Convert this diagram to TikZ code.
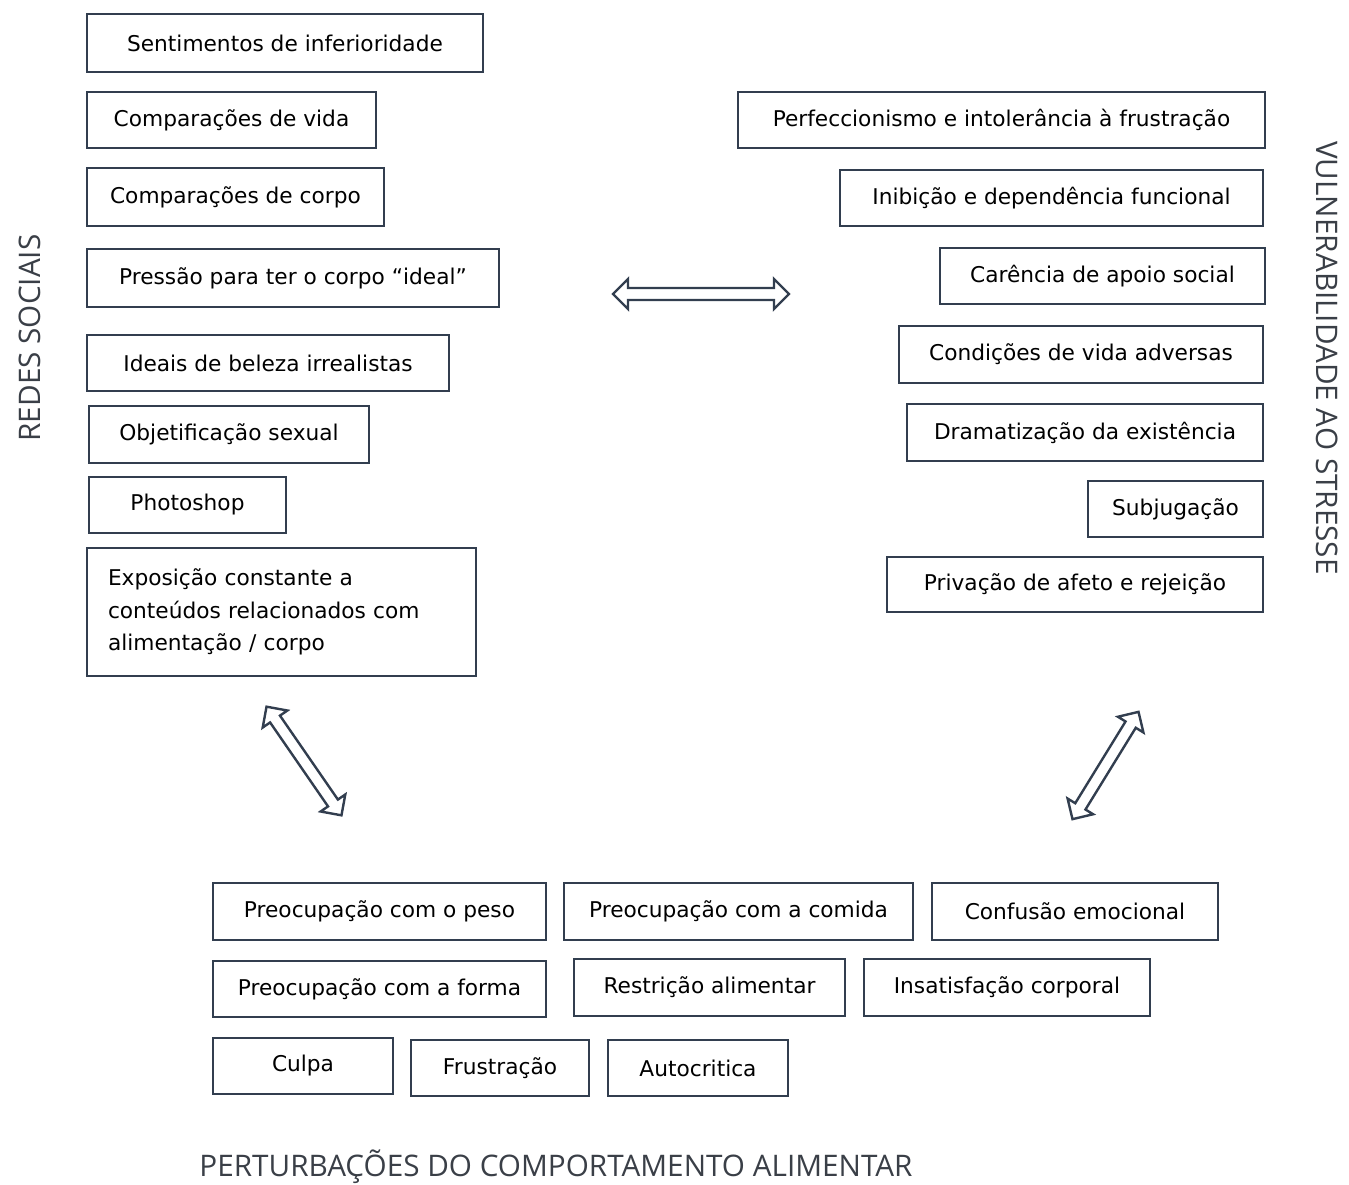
\documentclass[tikz,border=0pt]{standalone}
\usepackage{fontspec}
\setmainfont{DejaVu Sans}
\newfontfamily\labelfont{Open Sans}
\definecolor{boxline}{HTML}{323E4F}
\definecolor{labelcol}{HTML}{3A3F47}
\newcommand\mybox[6]{%
  \node[boxnode, minimum width={(#4-#2)*1pt}, minimum height={(#5-#3)*1pt}]
    (#1) at ({(#2+#4)/2*1pt},{-(#3+#5)/2*1pt}) {#6};}
% hollow double arrow: name, cx, cy, angle, length
\newcommand\mydblarrow[5]{%
  \begin{scope}[shift={(#2,#3)}, rotate=#4]
    \coordinate (#1-a) at ({-#5/2},0);
    \coordinate (#1-b) at ({#5/2},0);
    \draw[arrowline] ({-#5/2},0) -- ({-#5/2+15},15) -- ({-#5/2+15},6)
      -- ({#5/2-15},6) -- ({#5/2-15},15) -- ({#5/2},0) -- ({#5/2-15},-15)
      -- ({#5/2-15},-6) -- ({-#5/2+15},-6) -- ({-#5/2+15},-15) -- cycle;
  \end{scope}}
\tikzset{
  boxnode/.style={draw=boxline, line width=2pt, inner sep=0pt, align=center,
    font=\fontsize{21.7}{26}\selectfont, text=black},
  arrowline/.style={draw=boxline, line width=2.4pt, line join=miter},
  grouplabel/.style={font=\labelfont\fontsize{29.7}{34}\selectfont, text=labelcol, inner sep=0pt}
}
\begin{document}
\begin{tikzpicture}[x=1pt,y=1pt]
\useasboundingbox (0,0) rectangle (1349,-1185);
% left column
\mybox{l1}{87}{14}{483}{72}{Sentimentos de inferioridade}
\mybox{l2}{87}{92}{376}{148}{Comparações de vida}
\mybox{l3}{87}{168}{384}{226}{Comparações de corpo}
\mybox{l4}{87}{249}{499}{307}{Pressão para ter o corpo “ideal”}
\mybox{l5}{87}{335}{449}{391}{Ideais de beleza irrealistas}
\mybox{l6}{89}{406}{369}{463}{Objetificação sexual}
\mybox{l7}{89}{477}{286}{533}{Photoshop}
\node[boxnode, minimum width=389pt, minimum height=128pt, align=left,
  text width=347pt, font=\fontsize{21.7}{32.5}\selectfont] (l8) at (281.5,-612)
  {Exposição constante a\\conteúdos relacionados com\\alimentação / corpo};
% right column
\mybox{r1}{738}{92}{1265}{148}{Perfeccionismo e intolerância à frustração}
\mybox{r2}{840}{170}{1263}{226}{Inibição e dependência funcional}
\mybox{r3}{940}{248}{1265}{304}{Carência de apoio social}
\mybox{r4}{899}{326}{1263}{383}{Condições de vida adversas}
\mybox{r5}{907}{404}{1263}{461}{Dramatização da existência}
\mybox{r6}{1088}{481}{1263}{537}{Subjugação}
\mybox{r7}{887}{557}{1263}{612}{Privação de afeto e rejeição}
% bottom group
\mybox{b1}{213}{883}{546}{940}{Preocupação com o peso}
\mybox{b2}{564}{883}{913}{940}{Preocupação com a comida}
\mybox{b3}{932}{883}{1218}{940}{Confusão emocional}
\mybox{b4}{213}{961}{546}{1017}{Preocupação com a forma}
\mybox{b5}{574}{959}{845}{1016}{Restrição alimentar}
\mybox{b6}{864}{959}{1150}{1016}{Insatisfação corporal}
\mybox{b7}{213}{1038}{393}{1094}{Culpa}
\mybox{b8}{411}{1040}{589}{1096}{Frustração}
\mybox{b9}{608}{1040}{788}{1096}{Autocritica}
% group labels
\node[grouplabel, rotate=90] (redes) at (30,-338) {REDES SOCIAIS};
\node[grouplabel, rotate=-90] (vuln) at (1327,-358) {VULNERABILIDADE AO STRESSE};
\node[grouplabel] (pca) at (556,-1167) {PERTURBAÇÕES DO COMPORTAMENTO ALIMENTAR};
% arrows
\mydblarrow{ah}{701}{-294}{0}{176}
\mydblarrow{al}{304}{-761}{-55.4}{132}
\mydblarrow{ar}{1105.5}{-765.5}{58.4}{126}
\end{tikzpicture}
\end{document}
